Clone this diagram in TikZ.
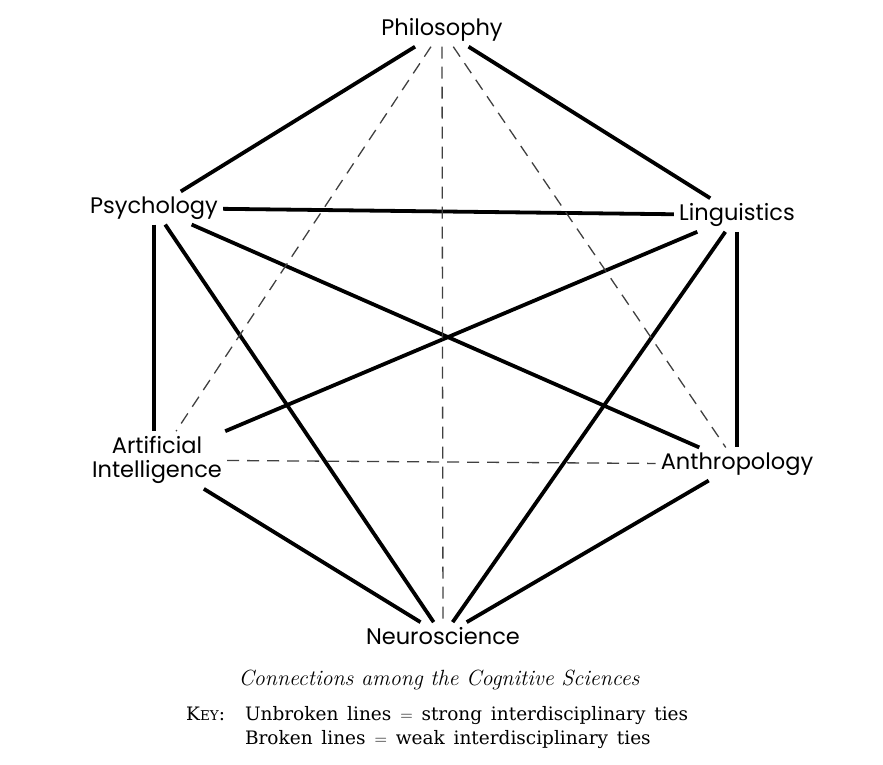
\documentclass[tikz,border=0pt]{standalone}
\usepackage{fontspec}
\newfontfamily\labfont{Poppins}
\newfontfamily\keyfont[WordSpace={1.5,1,1}]{DejaVu Serif}
\begin{document}
\begin{tikzpicture}[x=1pt,y=-1pt,
  lab/.style={font=\labfont\fontsize{22.5}{26}\selectfont, inner sep=5pt, align=center},
  strong/.style={line width=3.8pt, black},
  weak/.style={line width=1.3pt, black!75, dash pattern=on 12pt off 8pt},
]
\useasboundingbox (0,0) rectangle (883,764);
\node[lab] (phi) at (442,30) {Philosophy};
\node[lab] (psy) at (154,208) {Psychology};
\node[lab] (lin) at (737,215) {Linguistics};
\node[lab, align=center] (ai) at (157,460) {Artificial\\[-2pt]Intelligence};
\node[lab] (ant) at (737,464) {Anthropology};
\node[lab] (neu) at (443,636) {Neuroscience};
% strong ties
\draw[strong] (phi) -- (psy);
\draw[strong] (phi) -- (lin);
\draw[strong] (psy) -- (lin);
\draw[strong] (psy.south) -- (ai.north -| psy.south);
\draw[strong] (lin) -- (ant);
\draw[strong] (psy) -- (neu);
\draw[strong] (psy) -- (ant);
\draw[strong] (ai) -- (lin);
\draw[strong] (lin) -- (neu);
\draw[strong] (ai) -- (neu);
\draw[strong] (ant) -- (neu);
% weak ties
\draw[weak] (phi) -- (neu);
\draw[weak] (phi) -- (ai);
\draw[weak] (phi) -- (ant);
\draw[weak] (ai) -- (ant);
% caption
\node (cap) at (439,680) {\fontsize{22}{26}\selectfont\itshape Connections among the Cognitive Sciences};
\node[anchor=north west, inner sep=0pt] (key) at (186,704) {\keyfont\fontsize{18.5}{23}\selectfont
  \begin{tabular}{@{}l@{\hspace{20pt}}l@{}}
  K{\fontsize{13.5}{14}\selectfont EY}: & Unbroken lines $=$ strong interdisciplinary ties\\[1pt]
  & Broken lines $=$ weak interdisciplinary ties
  \end{tabular}};
\end{tikzpicture}
\end{document}
